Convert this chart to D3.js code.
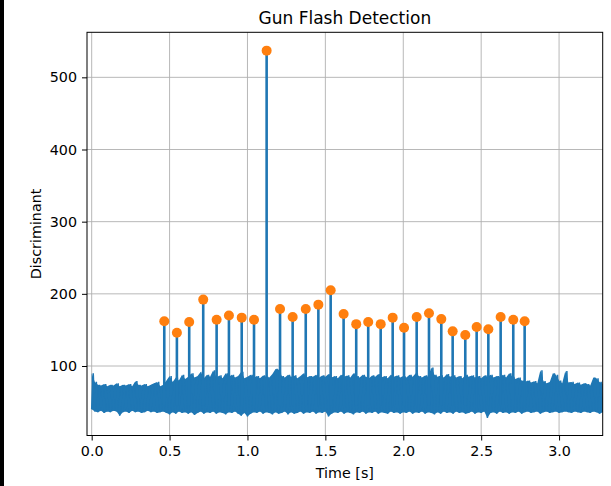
<!DOCTYPE html>
<html>
<head>
<meta charset="utf-8">
<script src="https://cdn.jsdelivr.net/npm/d3@7"></script>
<style>
  html, body { margin: 0; padding: 0; background: #ffffff; }
  svg { display: block; }
  text { font-family: "DejaVu Sans", sans-serif; fill: #000; }
</style>
</head>
<body>
<svg id="chart" width="611" height="486"></svg>
<script>
// ---- data ----
const title = "Gun Flash Detection";
const xLabel = "Time [s]";
const yLabel = "Discriminant";
const xTicks = [0.0, 0.5, 1.0, 1.5, 2.0, 2.5, 3.0];
const yTicks = [100, 200, 300, 400, 500];

// detected flashes: time (s) and discriminant value
const peakTimes = [0.466, 0.547, 0.626, 0.716, 0.802, 0.881, 0.963, 1.042, 1.123, 1.209,
                   1.290, 1.374, 1.455, 1.534, 1.617, 1.698, 1.775, 1.855, 1.932, 2.005,
                   2.086, 2.165, 2.244, 2.317, 2.398, 2.471, 2.546, 2.625, 2.706, 2.779];
const peakValues = [162, 146, 161, 192, 164, 170, 167, 164, 537, 179,
                    168, 179, 185, 205, 172, 158, 161, 158, 167, 153,
                    168, 173, 165, 148, 143, 154, 151, 168, 164, 162];

// background signal, min/max per 0.02 s bin, starting at t = 0
const noiseStep = 0.02;
const noiseHigh = [90, 78, 74, 73, 75, 72, 74, 73, 76, 72, 74, 73, 75, 72, 79, 74, 73, 75, 72, 74,
                   76, 78, 72, 74, 80, 86, 78, 84, 80, 88, 82, 85, 90, 84, 86, 92, 83, 88, 85, 94,
                   84, 87, 83, 90, 85, 88, 84, 86, 92, 83, 85, 88, 84, 86, 83, 87, 85, 84, 89, 96,
                   95, 86, 84, 88, 85, 87, 83, 86, 90, 84, 86, 85, 88, 84, 87, 85, 89, 84, 86, 83,
                   88, 85, 87, 84, 90, 86, 84, 88, 85, 83, 87, 85, 89, 84, 86, 83, 88, 85, 87, 84,
                   86, 84, 88, 85, 90, 86, 84, 87, 85, 98, 88, 85, 87, 84, 89, 85, 87, 84, 86, 83,
                   88, 85, 87, 84, 86, 83, 87, 85, 88, 84, 86, 85, 88, 84, 90, 85, 82, 84, 80, 78,
                   80, 77, 79, 76, 94, 79, 76, 78, 90, 88, 80, 76, 93, 77, 78, 75, 77, 74, 76, 75,
                   73, 84, 83, 78, 75];
const noiseLow = [40, 37, 36, 38, 35, 37, 36, 38, 37, 31, 36, 37, 35, 38, 36, 37, 35, 36, 38, 36,
                  37, 35, 36, 37, 35, 33, 36, 34, 37, 35, 36, 34, 36, 32, 35, 37, 34, 36, 35, 37,
                  34, 36, 35, 33, 36, 35, 37, 34, 31, 35, 30, 34, 36, 35, 37, 34, 36, 35, 33, 36,
                  34, 35, 37, 33, 36, 34, 35, 37, 34, 36, 35, 37, 34, 36, 35, 37, 30, 34, 36, 35,
                  37, 34, 36, 35, 33, 36, 35, 37, 34, 36, 35, 37, 34, 36, 35, 34, 37, 35, 36, 34,
                  36, 35, 37, 34, 36, 35, 37, 34, 36, 35, 33, 36, 34, 37, 35, 36, 34, 37, 35, 36,
                  34, 35, 37, 34, 36, 35, 37, 28, 35, 36, 34, 37, 35, 36, 34, 36, 35, 37, 34, 36,
                  37, 35, 36, 37, 34, 36, 37, 35, 36, 37, 35, 36, 37, 36, 35, 37, 36, 35, 37, 36,
                  35, 37, 36, 34, 36];

// ---- layout ----
const svg = d3.select("#chart");
const W = 611, H = 486;
const m = { left: 87, right: 611 - 602.7, top: 32.3, bottom: 486 - 435.5 };
const x = d3.scaleLinear().domain([-0.03, 3.28]).range([m.left, W - m.right]);
const y = d3.scaleLinear().domain([3.7, 562.4]).range([H - m.bottom, m.top]);

svg.append("rect").attr("width", W).attr("height", H).attr("fill", "#ffffff");
// dark strip at the left edge of the screenshot
svg.append("rect").attr("x", 0).attr("y", 0).attr("width", 4).attr("height", H).attr("fill", "#000");

const clip = svg.append("defs").append("clipPath").attr("id", "plotclip")
  .append("rect").attr("x", m.left).attr("y", m.top)
  .attr("width", W - m.right - m.left).attr("height", H - m.bottom - m.top);

// grid
const grid = svg.append("g").attr("stroke", "#b0b0b0").attr("stroke-width", 0.9);
grid.selectAll("line.gx").data(xTicks).join("line")
  .attr("x1", d => x(d)).attr("x2", d => x(d))
  .attr("y1", m.top).attr("y2", H - m.bottom);
grid.selectAll("line.gy").data(yTicks).join("line")
  .attr("x1", m.left).attr("x2", W - m.right)
  .attr("y1", d => y(d)).attr("y2", d => y(d));

const plot = svg.append("g").attr("clip-path", "url(#plotclip)");

// background signal as min/max band
const noise = noiseHigh.map((h, i) => ({ t: i * noiseStep, hi: h, lo: noiseLow[i] }));
const blue = "#1f77b4", orange = "#ff7f0e";
plot.append("path").datum(noise)
  .attr("d", d3.area().x(d => x(d.t)).y0(d => y(d.lo)).y1(d => y(d.hi)))
  .attr("fill", blue).attr("stroke", "none");
const zig = [];
noise.forEach((d, i) => {
  zig.push([d.t, d.lo]);
  zig.push([d.t + noiseStep / 2, d.hi]);
});
plot.append("path").datum(zig)
  .attr("d", d3.line().x(d => x(d[0])).y(d => y(d[1])))
  .attr("fill", "none").attr("stroke", blue).attr("stroke-width", 1.5);

// flash stems
plot.selectAll("line.stem").data(peakTimes).join("line")
  .attr("x1", d => x(d)).attr("x2", d => x(d))
  .attr("y1", y(45)).attr("y2", (d, i) => y(peakValues[i]))
  .attr("stroke", blue).attr("stroke-width", 2.6);

// flash markers
svg.selectAll("circle.pk").data(peakTimes).join("circle")
  .attr("cx", d => x(d)).attr("cy", (d, i) => y(peakValues[i]))
  .attr("r", 5).attr("fill", orange);

// axes
const xAxis = d3.axisBottom(x).tickValues(xTicks).tickFormat(d3.format(".1f"))
  .tickSize(5).tickPadding(5);
const yAxis = d3.axisLeft(y).tickValues(yTicks).tickFormat(d3.format("d"))
  .tickSize(5).tickPadding(5);
const gx = svg.append("g").attr("transform", `translate(0,${H - m.bottom})`).call(xAxis);
const gy = svg.append("g").attr("transform", `translate(${m.left},0)`).call(yAxis);
[gx, gy].forEach(g => {
  g.select(".domain").remove();
  g.selectAll("text").attr("font-size", 14.3).attr("font-family", "DejaVu Sans").attr("fill", "#000");
  g.selectAll(".tick line").attr("stroke", "#000").attr("stroke-width", 1);
});

// frame
svg.append("rect").attr("x", m.left).attr("y", m.top)
  .attr("width", W - m.right - m.left).attr("height", H - m.bottom - m.top)
  .attr("fill", "none").attr("stroke", "#000").attr("stroke-width", 1);

// labels
const cx = (m.left + W - m.right) / 2;
svg.append("text").attr("x", cx).attr("y", 24).attr("text-anchor", "middle")
  .attr("font-size", 17).text(title);
svg.append("text").attr("x", cx).attr("y", 478).attr("text-anchor", "middle")
  .attr("font-size", 14.3).text(xLabel);
svg.append("text").attr("transform", `translate(41,${(m.top + H - m.bottom) / 2}) rotate(-90)`)
  .attr("text-anchor", "middle").attr("font-size", 14.3).text(yLabel);
</script>
</body>
</html>
